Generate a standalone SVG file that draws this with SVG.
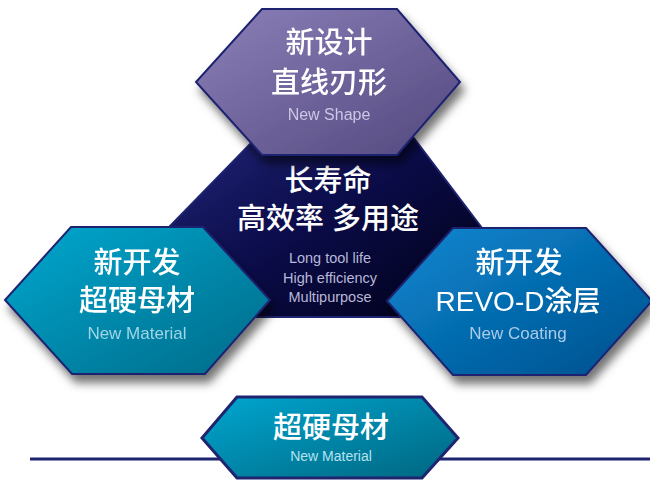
<svg xmlns="http://www.w3.org/2000/svg" width="650" height="480" viewBox="0 0 650 480">
<defs>
<linearGradient id="gPurple" x1="0" y1="0" x2="1" y2="1"><stop offset="0" stop-color="#8c80b9"/><stop offset="1" stop-color="#52487e"/></linearGradient>
<linearGradient id="gTeal" x1="0" y1="0" x2="1" y2="1"><stop offset="0" stop-color="#00a8d0"/><stop offset="1" stop-color="#006a88"/></linearGradient>
<linearGradient id="gBlue" x1="0" y1="0" x2="1" y2="1"><stop offset="0" stop-color="#0b88d2"/><stop offset="1" stop-color="#004f8c"/></linearGradient>
<linearGradient id="gTeal2" x1="0" y1="0" x2="1" y2="1"><stop offset="0" stop-color="#00a6d0"/><stop offset="1" stop-color="#006680"/></linearGradient>
<linearGradient id="gDark" x1="0" y1="0" x2="1" y2="1"><stop offset="0" stop-color="#262a80"/><stop offset="0.5" stop-color="#0b0c4a"/><stop offset="1" stop-color="#000014"/></linearGradient>
<filter id="shadow" x="-20%" y="-20%" width="140%" height="150%">
<feGaussianBlur in="SourceAlpha" stdDeviation="5"/>
<feOffset dx="4" dy="8" result="b"/>
<feFlood flood-color="#000" flood-opacity="0.55"/>
<feComposite in2="b" operator="in"/>
<feMerge><feMergeNode/><feMergeNode in="SourceGraphic"/></feMerge>
</filter>
<style>
.hex{stroke:#1f2470;stroke-width:2;stroke-linejoin:miter}
.cn{font-family:"Liberation Sans","Noto Sans CJK SC",sans-serif;fill:#fff;text-anchor:middle;font-weight:500}
.en{font-family:"Liberation Sans","Noto Sans",sans-serif;text-anchor:middle}
</style>
</defs>
<rect width="650" height="480" fill="#fff"/>
<g id="connectors">
<line x1="30" y1="459" x2="650" y2="459" stroke="#1f2470" stroke-width="3"/>
</g>
<g id="center">
<polygon class="hex" points="293,100 385,100 482,228 430,317 235,317 170,226" fill="url(#gDark)"/>
<text class="cn" x="328" y="191" font-size="29">长寿命</text>
<text class="cn" x="328" y="229" font-size="29">高效率 多用途</text>
<text class="en" x="330" y="263" font-size="14.5" fill="#b8b8d8">Long tool life</text>
<text class="en" x="330" y="283" font-size="14.5" fill="#b8b8d8">High efficiency</text>
<text class="en" x="330" y="302" font-size="14.5" fill="#b8b8d8">Multipurpose</text>
</g>
<g id="top" filter="url(#shadow)">
<polygon class="hex" points="262,9 397,9 460,82 397,155 262,155 196,82" fill="url(#gPurple)"/>
<text class="cn" x="329" y="53" font-size="29">新设计</text>
<text class="cn" x="329" y="93" font-size="29">直线刃形</text>
<text class="en" x="329" y="120" font-size="16" fill="#cdc6e4">New Shape</text>
</g>
<g id="left" filter="url(#shadow)">
<polygon class="hex" points="71,227 203,227 270,300 205,374 72,374 5,300" fill="url(#gTeal)"/>
<text class="cn" x="137" y="273" font-size="29">新开发</text>
<text class="cn" x="137" y="311" font-size="29">超硬母材</text>
<text class="en" x="137" y="339" font-size="17" fill="#9fd5e6">New Material</text>
</g>
<g id="right" filter="url(#shadow)">
<polygon class="hex" points="453,228 586,228 652,301 586,375 453,375 387,301" fill="url(#gBlue)"/>
<text class="cn" x="519" y="273" font-size="29">新开发</text>
<text class="cn" x="518" y="311" font-size="28">REVO-D涂层</text>
<text class="en" x="518" y="339" font-size="17" fill="#a8cbe8">New Coating</text>
</g>
<g id="bottom">
<polygon points="237,397 422,397 458,438 422,478 237,478 202,438" fill="url(#gTeal2)" stroke="#1f2470" stroke-width="3"/>
<text class="cn" x="331" y="438" font-size="29">超硬母材</text>
<text class="en" x="331" y="461" font-size="14" fill="#b5e2f0">New Material</text>
</g>
</svg>
